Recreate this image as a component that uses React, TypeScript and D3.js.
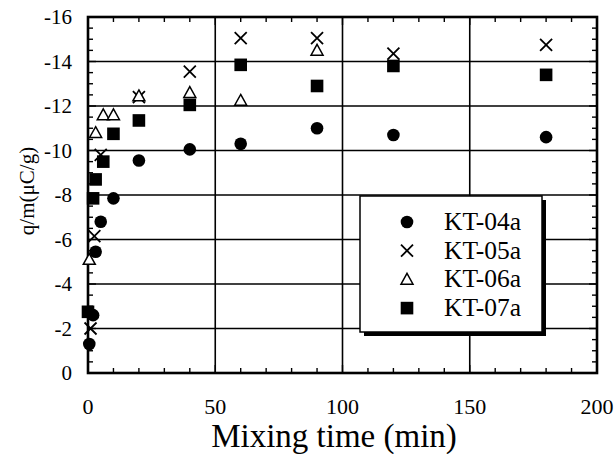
import React, { useEffect, useRef } from 'react';
import * as d3 from 'd3';

// mixing time (min) vs q/m (uC/g)
const kt04a = [[0.5, -1.3], [2, -2.6], [3, -5.45], [5, -6.8], [10, -7.85], [20, -9.55], [40, -10.05], [60, -10.3], [90, -11.0], [120, -10.7], [180, -10.6]];
const kt05a = [[1, -2.0], [2.5, -6.15], [5, -9.8], [20, -12.4], [40, -13.55], [60, -15.05], [90, -15.05], [120, -14.35], [180, -14.75]];
const kt06a = [[0.5, -5.1], [3, -10.8], [6, -11.6], [10, -11.6], [20, -12.45], [40, -12.6], [60, -12.25], [90, -14.5]];
const kt07a = [[0, -2.75], [2, -7.85], [3, -8.7], [6, -9.5], [10, -10.75], [20, -11.35], [40, -12.05], [60, -13.85], [90, -12.9], [120, -13.8], [180, -13.4]];

const seriesNames = ['KT-04a', 'KT-05a', 'KT-06a', 'KT-07a'];
const seriesShapes = ['circle', 'cross', 'triangle', 'square'];

const xTicks = [0, 50, 100, 150, 200];
const xTickLabels = ['0', '50', '100', '150', '200'];
const yTicks = [0, -2, -4, -6, -8, -10, -12, -14, -16];
const yTickLabels = ['0', '-2', '-4', '-6', '-8', '-10', '-12', '-14', '-16'];

function drawMarker(g, shape, cx, cy) {
  if (shape === 'circle') {
    g.append('circle').attr('cx', cx).attr('cy', cy).attr('r', 6.3).attr('fill', '#000');
  } else if (shape === 'square') {
    g.append('rect').attr('x', cx - 6.3).attr('y', cy - 6.3).attr('width', 12.6).attr('height', 12.6).attr('fill', '#000');
  } else if (shape === 'cross') {
    const s = 6;
    g.append('path')
      .attr('d', `M${cx - s},${cy - s}L${cx + s},${cy + s}M${cx - s},${cy + s}L${cx + s},${cy - s}`)
      .attr('stroke', '#000').attr('stroke-width', 1.8).attr('fill', 'none');
  } else {
    const s = 6;
    g.append('path')
      .attr('d', `M${cx},${cy - s}L${cx + s},${cy + s * 0.8}L${cx - s},${cy + s * 0.8}Z`)
      .attr('stroke', '#000').attr('stroke-width', 1.5).attr('fill', '#fff');
  }
}

export default function App() {
  const svgRef = useRef(null);
  const width = 614;
  const height = 454;

  useEffect(() => {
    const svg = d3.select(svgRef.current);
    svg.selectAll('*').remove();

    const x = d3.scaleLinear().domain([0, 200]).range([88, 597]);
    const y = d3.scaleLinear().domain([0, -16]).range([373, 17]);
    const [x0, x1] = x.range();
    const [y0, y1] = y.range();
    const font = '"Liberation Serif", "Times New Roman", serif';

    svg.append('rect').attr('width', width).attr('height', height).attr('fill', '#fff');

    // grid
    const grid = svg.append('g').attr('stroke', '#000').attr('stroke-width', 1.6);
    yTicks.slice(1, -1).forEach(t => {
      grid.append('line').attr('x1', x0).attr('x2', x1).attr('y1', y(t)).attr('y2', y(t));
    });
    xTicks.slice(1, -1).forEach(t => {
      grid.append('line').attr('x1', x(t)).attr('x2', x(t)).attr('y1', y0).attr('y2', y1);
    });

    // minor ticks, inward on all four sides
    const ticks = svg.append('g').attr('stroke', '#000').attr('stroke-width', 1.4);
    d3.range(0, 201, 10).forEach(t => {
      const len = t % 50 === 0 ? 8 : 5;
      ticks.append('line').attr('x1', x(t)).attr('x2', x(t)).attr('y1', y0).attr('y2', y0 - len);
      ticks.append('line').attr('x1', x(t)).attr('x2', x(t)).attr('y1', y1).attr('y2', y1 + len);
    });
    d3.range(0, -16.01, -0.5).forEach(t => {
      const len = t % 2 === 0 ? 8 : 5;
      ticks.append('line').attr('x1', x0).attr('x2', x0 + len).attr('y1', y(t)).attr('y2', y(t));
      ticks.append('line').attr('x1', x1).attr('x2', x1 - len).attr('y1', y(t)).attr('y2', y(t));
    });

    // frame
    svg.append('rect')
      .attr('x', x0).attr('y', y1).attr('width', x1 - x0).attr('height', y0 - y1)
      .attr('fill', 'none').attr('stroke', '#000').attr('stroke-width', 2.6);

    // tick labels
    svg.append('g').selectAll('text').data(xTicks).enter().append('text')
      .attr('x', d => x(d)).attr('y', 414)
      .attr('text-anchor', 'middle').attr('font-family', font).attr('font-size', 22)
      .text((d, i) => xTickLabels[i]);
    svg.append('g').selectAll('text').data(yTicks).enter().append('text')
      .attr('x', 72).attr('y', d => y(d) + 7)
      .attr('text-anchor', 'end').attr('font-family', font).attr('font-size', 21)
      .text((d, i) => yTickLabels[i]);

    // axis titles
    svg.append('text')
      .attr('x', 334).attr('y', 447).attr('text-anchor', 'middle')
      .attr('font-family', font).attr('font-size', 33)
      .text('Mixing time (min)');
    svg.append('text')
      .attr('transform', 'translate(34,191) rotate(-90)').attr('text-anchor', 'middle')
      .attr('font-family', font).attr('font-size', 21)
      .text('q/m(μC/g)');

    // points
    const pts = svg.append('g');
    [kt04a, kt05a, kt06a, kt07a].forEach((series, i) => {
      series.forEach(d => drawMarker(pts, seriesShapes[i], x(d[0]), y(d[1])));
    });

    // legend with drop shadow
    const lg = svg.append('g');
    lg.append('rect').attr('x', 364).attr('y', 200).attr('width', 182).attr('height', 136).attr('fill', '#000');
    lg.append('rect').attr('x', 360).attr('y', 196).attr('width', 182).attr('height', 136)
      .attr('fill', '#fff').attr('stroke', '#000').attr('stroke-width', 1.5);
    seriesNames.forEach((name, i) => {
      const cy = 222 + i * 28.7;
      drawMarker(lg, seriesShapes[i], 407, cy);
      lg.append('text').attr('x', 444).attr('y', cy + 8)
        .attr('font-family', font).attr('font-size', 25.5).text(name);
    });
  }, []);

  return (
    <svg ref={svgRef} width={width} height={height}
      style={{ position: 'absolute', left: 0, top: 0, display: 'block' }} />
  );
}
